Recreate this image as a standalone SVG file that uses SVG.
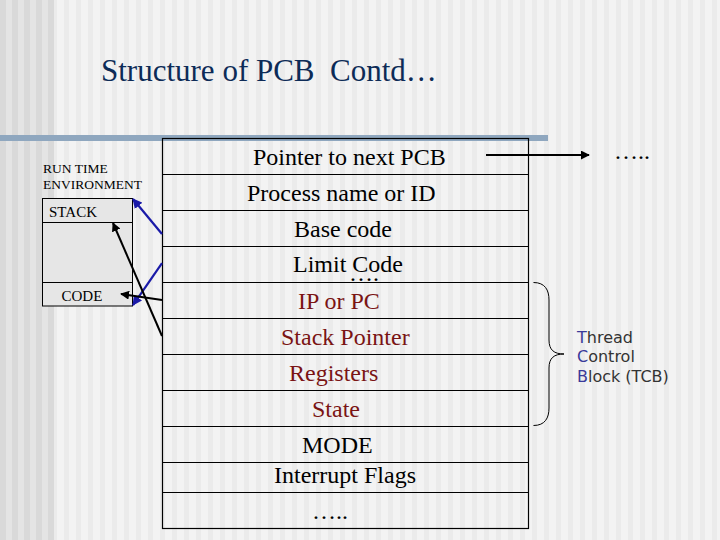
<svg xmlns="http://www.w3.org/2000/svg" width="720" height="540" viewBox="0 0 720 540">
<style>
.t{font-family:"Liberation Serif","Times New Roman",serif;font-size:24px;fill:#000}
.r{fill:#7a1414}
.s{font-family:"Liberation Serif","Times New Roman",serif;fill:#000}
.title{font-family:"Liberation Serif","Times New Roman",serif;font-size:31px;fill:#0d2b57;white-space:pre}
.row{stroke:#000;stroke-width:1.2;fill:none}
.tcb{font-family:"DejaVu Sans",Verdana,sans-serif;font-size:16px;fill:#333}
.tcb tspan.c{fill:#3a3a9a}
</style>
<defs>
<pattern id="pL" width="12" height="10" patternUnits="userSpaceOnUse">
<rect width="12" height="10" fill="#e4e4e4"/>
<rect width="6" height="10" fill="#d9d9d9"/>
</pattern>
<pattern id="pR" width="12" height="10" patternUnits="userSpaceOnUse">
<rect width="12" height="10" fill="#f3f3f3"/>
<rect x="4" width="5" height="10" fill="#ebebeb"/>
</pattern>
<marker id="ab" viewBox="0 0 10 10" refX="9" refY="5" markerWidth="4.5" markerHeight="4.5" orient="auto">
<path d="M0,0 L10,5 L0,10 z" fill="#1a1aa8"/>
</marker>
<marker id="ak" viewBox="0 0 10 10" refX="9" refY="5" markerWidth="4.5" markerHeight="4.5" orient="auto">
<path d="M0,0 L10,5 L0,10 z" fill="#000"/>
</marker>
</defs>
<rect width="720" height="540" fill="url(#pR)"/>
<rect width="54" height="540" fill="url(#pL)"/>
<rect x="0" y="135" width="548" height="6" fill="#8fa7bf"/>

<text class="title" x="101" y="81" xml:space="preserve">Structure of PCB  Contd…</text>

<g id="runtime">
<text class="s" x="43" y="173" font-size="13.5">RUN TIME</text>
<text class="s" x="43" y="189" font-size="13.5">ENVIRONMENT</text>
<rect x="42.5" y="198.5" width="90" height="107.5" fill="#e6e6e6" stroke="#000" stroke-width="1"/>
<line x1="42.5" y1="222.5" x2="132.5" y2="222.5" stroke="#000" stroke-width="1"/>
<line x1="42.5" y1="282.5" x2="132.5" y2="282.5" stroke="#000" stroke-width="1"/>
<text class="s" x="49" y="217" font-size="15">STACK</text>
<text class="s" x="61.5" y="301" font-size="15">CODE</text>
</g>

<g id="pcb">
<rect class="row" x="162.5" y="138.5" width="366" height="390"/>
<line class="row" x1="162.5" y1="174.5" x2="528.5" y2="174.5"/>
<line class="row" x1="162.5" y1="210.5" x2="528.5" y2="210.5"/>
<line class="row" x1="162.5" y1="246.5" x2="528.5" y2="246.5"/>
<line class="row" x1="162.5" y1="282.5" x2="528.5" y2="282.5"/>
<line class="row" x1="162.5" y1="318.5" x2="528.5" y2="318.5"/>
<line class="row" x1="162.5" y1="354.5" x2="528.5" y2="354.5"/>
<line class="row" x1="162.5" y1="390.5" x2="528.5" y2="390.5"/>
<line class="row" x1="162.5" y1="426.5" x2="528.5" y2="426.5"/>
<line class="row" x1="162.5" y1="462.5" x2="528.5" y2="462.5"/>
<line class="row" x1="162.5" y1="492.5" x2="528.5" y2="492.5"/>
<text class="t" x="253" y="165">Pointer to next PCB</text>
<text class="t" x="247" y="201">Process name or ID</text>
<text class="t" x="294" y="237">Base code</text>
<text class="t" x="293" y="272">Limit Code</text>
<text class="t" x="349" y="281" font-size="14">….</text>
<text class="t r" x="298" y="309">IP or PC</text>
<text class="t r" x="281" y="345">Stack Pointer</text>
<text class="t r" x="289" y="381">Registers</text>
<text class="t r" x="312" y="417">State</text>
<text class="t" x="302" y="453">MODE</text>
<text class="t" x="274" y="483">Interrupt Flags</text>
<text class="t" x="312" y="519">…..</text>
</g>

<g id="next">
<text class="t" x="614" y="159">…..</text>
</g>

<g id="tcb">
<path d="M533.5,282.5 C545,282.5 549,290 549,300 L549,340 C549,350 554,354 564,354 C554,354 549,358 549,368 L549,408 C549,418 545,425.5 533.5,425.5" fill="none" stroke="#000" stroke-width="1"/>
<text class="tcb" x="577" y="343"><tspan class="c">T</tspan>hread</text>
<text class="tcb" x="577" y="362"><tspan class="c">C</tspan>ontrol</text>
<text class="tcb" x="577" y="382"><tspan class="c">B</tspan>lock (TCB)</text>
</g>

<g id="connectors">
<line x1="486" y1="155" x2="589" y2="155" stroke="#000" stroke-width="2" marker-end="url(#ak)"/>
<line x1="162" y1="234" x2="133" y2="199" stroke="#1a1aa8" stroke-width="2.2" marker-end="url(#ab)"/>
<line x1="162" y1="263" x2="133" y2="305" stroke="#1a1aa8" stroke-width="2.2" marker-end="url(#ab)"/>
<line x1="162" y1="300" x2="121" y2="294" stroke="#000" stroke-width="2" marker-end="url(#ak)"/>
<line x1="162" y1="336" x2="113" y2="223" stroke="#000" stroke-width="2" marker-end="url(#ak)"/>
</g>
</svg>
